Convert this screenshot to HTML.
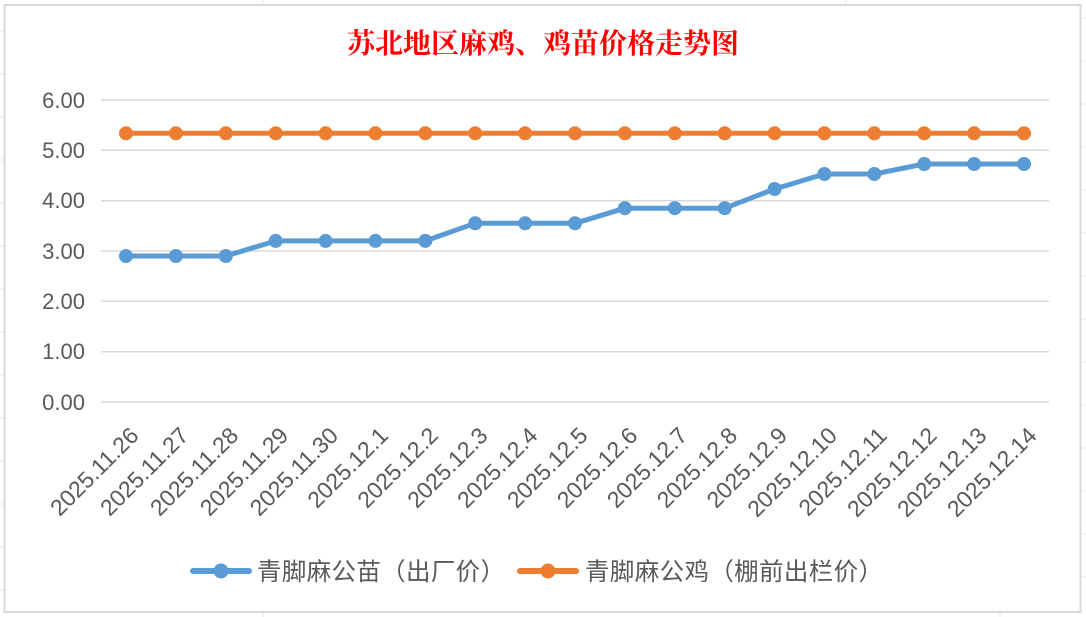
<!DOCTYPE html>
<html><head><meta charset="utf-8"><style>
html,body{margin:0;padding:0;background:#fff;}
svg{display:block;font-family:"Liberation Sans","Noto Sans CJK SC",sans-serif;}
</style></head><body>
<svg width="1086" height="617" viewBox="0 0 1086 617" xmlns="http://www.w3.org/2000/svg">
<g stroke="#e4e4e4" stroke-width="1">
<line x1="0" y1="31" x2="4" y2="31"/><line x1="0" y1="74" x2="4" y2="74"/><line x1="0" y1="117" x2="4" y2="117"/>
<line x1="0" y1="160" x2="4" y2="160"/><line x1="0" y1="203" x2="4" y2="203"/><line x1="0" y1="246" x2="4" y2="246"/>
<line x1="0" y1="289" x2="4" y2="289"/><line x1="0" y1="332" x2="4" y2="332"/><line x1="0" y1="375" x2="4" y2="375"/>
<line x1="0" y1="418" x2="4" y2="418"/><line x1="0" y1="461" x2="4" y2="461"/><line x1="0" y1="504" x2="4" y2="504"/>
<line x1="0" y1="547" x2="4" y2="547"/><line x1="0" y1="590" x2="4" y2="590"/>
<line x1="1082" y1="18" x2="1086" y2="18"/><line x1="1082" y1="61" x2="1086" y2="61"/><line x1="1082" y1="104" x2="1086" y2="104"/>
<line x1="1082" y1="147" x2="1086" y2="147"/><line x1="1082" y1="190" x2="1086" y2="190"/><line x1="1082" y1="233" x2="1086" y2="233"/>
<line x1="1082" y1="276" x2="1086" y2="276"/><line x1="1082" y1="319" x2="1086" y2="319"/><line x1="1082" y1="362" x2="1086" y2="362"/>
<line x1="1082" y1="405" x2="1086" y2="405"/><line x1="1082" y1="448" x2="1086" y2="448"/><line x1="1082" y1="491" x2="1086" y2="491"/>
<line x1="1082" y1="534" x2="1086" y2="534"/><line x1="1082" y1="577" x2="1086" y2="577"/>
<line x1="263" y1="0" x2="263" y2="4"/><line x1="263" y1="613" x2="263" y2="617"/>
<line x1="1000" y1="613" x2="1000" y2="617"/><line x1="846" y1="0" x2="846" y2="4"/>
</g>
<rect x="4.5" y="5" width="1076" height="607" fill="#fff" stroke="#d9d9d9" stroke-width="2"/>
<text x="543" y="53" text-anchor="middle" font-family="'Noto Serif CJK SC',serif" font-weight="bold" font-size="28" fill="#ff0000">苏北地区麻鸡、鸡苗价格走势图</text>
<g stroke="#d9d9d9" stroke-width="1.5">
<line x1="101" y1="100" x2="1049" y2="100"/><line x1="101" y1="150.3" x2="1049" y2="150.3"/>
<line x1="101" y1="200.7" x2="1049" y2="200.7"/><line x1="101" y1="251" x2="1049" y2="251"/>
<line x1="101" y1="301.3" x2="1049" y2="301.3"/><line x1="101" y1="351.7" x2="1049" y2="351.7"/>
<line x1="101" y1="402" x2="1049" y2="402"/>
</g>
<g font-size="22" fill="#595959" text-anchor="end">
<text x="85" y="108">6.00</text><text x="85" y="158">5.00</text><text x="85" y="208">4.00</text>
<text x="85" y="259">3.00</text><text x="85" y="309">2.00</text><text x="85" y="359">1.00</text>
<text x="85" y="410">0.00</text>
</g>
<polyline fill="none" stroke="#ed7d31" stroke-width="5" points="126,133.3 1024,133.3"/>
<polyline fill="none" stroke="#5b9bd5" stroke-width="5" stroke-linejoin="round" points="126,256 175.9,256 225.8,256 275.7,240.9 325.6,240.9 375.4,240.9 425.3,240.9 475.2,223.3 525.1,223.3 575,223.3 624.9,208.2 674.8,208.2 724.7,208.2 774.6,189 824.4,174 874.3,174 924.2,164 974.1,164 1024,164"/>
<g fill="#5b9bd5">
<circle cx="126" cy="256" r="7"/><circle cx="175.9" cy="256" r="7"/><circle cx="225.8" cy="256" r="7"/><circle cx="275.7" cy="240.9" r="7"/><circle cx="325.6" cy="240.9" r="7"/><circle cx="375.4" cy="240.9" r="7"/><circle cx="425.3" cy="240.9" r="7"/><circle cx="475.2" cy="223.3" r="7"/><circle cx="525.1" cy="223.3" r="7"/><circle cx="575" cy="223.3" r="7"/><circle cx="624.9" cy="208.2" r="7"/><circle cx="674.8" cy="208.2" r="7"/><circle cx="724.7" cy="208.2" r="7"/><circle cx="774.6" cy="189" r="7"/><circle cx="824.4" cy="174" r="7"/><circle cx="874.3" cy="174" r="7"/><circle cx="924.2" cy="164" r="7"/><circle cx="974.1" cy="164" r="7"/><circle cx="1024" cy="164" r="7"/>
</g>
<g fill="#ed7d31">
<circle cx="126" cy="133.3" r="7"/><circle cx="175.9" cy="133.3" r="7"/><circle cx="225.8" cy="133.3" r="7"/><circle cx="275.7" cy="133.3" r="7"/><circle cx="325.6" cy="133.3" r="7"/><circle cx="375.4" cy="133.3" r="7"/><circle cx="425.3" cy="133.3" r="7"/><circle cx="475.2" cy="133.3" r="7"/><circle cx="525.1" cy="133.3" r="7"/><circle cx="575" cy="133.3" r="7"/><circle cx="624.9" cy="133.3" r="7"/><circle cx="674.8" cy="133.3" r="7"/><circle cx="724.7" cy="133.3" r="7"/><circle cx="774.6" cy="133.3" r="7"/><circle cx="824.4" cy="133.3" r="7"/><circle cx="874.3" cy="133.3" r="7"/><circle cx="924.2" cy="133.3" r="7"/><circle cx="974.1" cy="133.3" r="7"/><circle cx="1024" cy="133.3" r="7"/>
</g>
<g font-size="23" fill="#595959" text-anchor="end">
<text transform="translate(140,437) rotate(-45)">2025.11.26</text>
<text transform="translate(189.9,437) rotate(-45)">2025.11.27</text>
<text transform="translate(239.8,437) rotate(-45)">2025.11.28</text>
<text transform="translate(289.7,437) rotate(-45)">2025.11.29</text>
<text transform="translate(339.6,437) rotate(-45)">2025.11.30</text>
<text transform="translate(389.4,437) rotate(-45)">2025.12.1</text>
<text transform="translate(439.3,437) rotate(-45)">2025.12.2</text>
<text transform="translate(489.2,437) rotate(-45)">2025.12.3</text>
<text transform="translate(539.1,437) rotate(-45)">2025.12.4</text>
<text transform="translate(589,437) rotate(-45)">2025.12.5</text>
<text transform="translate(638.9,437) rotate(-45)">2025.12.6</text>
<text transform="translate(688.8,437) rotate(-45)">2025.12.7</text>
<text transform="translate(738.7,437) rotate(-45)">2025.12.8</text>
<text transform="translate(788.6,437) rotate(-45)">2025.12.9</text>
<text transform="translate(838.4,437) rotate(-45)">2025.12.10</text>
<text transform="translate(888.3,437) rotate(-45)">2025.12.11</text>
<text transform="translate(938.2,437) rotate(-45)">2025.12.12</text>
<text transform="translate(988.1,437) rotate(-45)">2025.12.13</text>
<text transform="translate(1038,437) rotate(-45)">2025.12.14</text>
</g>
<line x1="193" y1="571" x2="249" y2="571" stroke="#5b9bd5" stroke-width="6" stroke-linecap="round"/>
<circle cx="221" cy="571" r="7.5" fill="#5b9bd5"/>
<text x="257" y="580" font-size="24.5" fill="#595959" textLength="248">青脚麻公苗（出厂价）</text>
<line x1="520" y1="571" x2="576" y2="571" stroke="#ed7d31" stroke-width="6" stroke-linecap="round"/>
<circle cx="548" cy="571" r="7.5" fill="#ed7d31"/>
<text x="585" y="580" font-size="24.5" fill="#595959" textLength="298">青脚麻公鸡（棚前出栏价）</text>
</svg>
</body></html>
